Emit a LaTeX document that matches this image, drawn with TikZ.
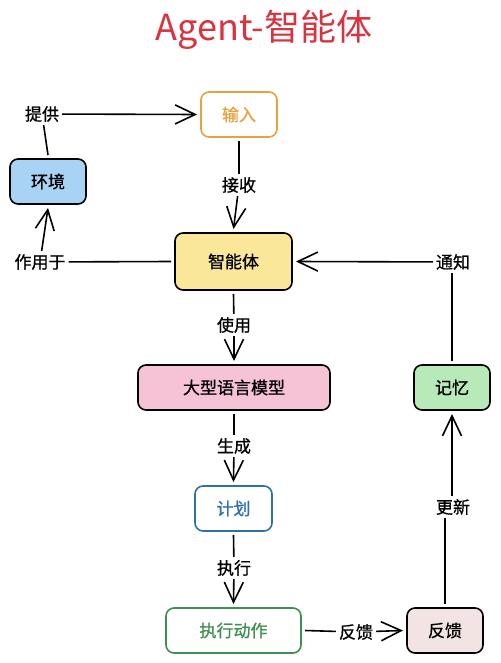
\documentclass[tikz,border=0pt]{standalone}
\usepackage{fontspec}
\setmainfont{Noto Sans CJK SC}[BoldFont=*, BoldFeatures={FakeBold=0.8}]
\usepackage{tikz}
\usetikzlibrary{arrows.meta}
\definecolor{titlered}{HTML}{D9333F}
\definecolor{inorange}{HTML}{E8A23A}
\definecolor{envblue}{HTML}{A9D3F5}
\definecolor{agentyellow}{HTML}{FBE79A}
\definecolor{llmpink}{HTML}{F6C3D6}
\definecolor{memgreen}{HTML}{B7E9B9}
\definecolor{planblue}{HTML}{2E6FAE}
\definecolor{actgreen}{HTML}{3F8F4F}
\definecolor{fbpink}{HTML}{F3E4E4}
\tikzset{x=1pt, y=-1pt, >={Straight Barb[length=20pt,width=19pt,line width=1.6pt]},
  box/.style={draw, line width=1.6pt, rounded corners=8pt, minimum height=45pt,
    font=\fontsize{17}{17}\selectfont\bfseries, outer sep=4pt},
  lbl/.style={font=\fontsize{17}{17}\selectfont\bfseries, inner sep=3pt},
  link/.style={line width=1.6pt}}

\begin{document}
\begin{tikzpicture}
\useasboundingbox (0,0) rectangle (500,663);
\node (title) at (264,30) [text=titlered, font=\fontsize{36}{36}\selectfont] {Agent-智能体};
\node (in) at (239,114.5) [box, draw=inorange, text=inorange, fill=white, minimum width=76pt] {输入};
\node (env) at (48,181.5) [box, fill=envblue, minimum width=76pt] {环境};
\node (agent) at (233.5,261.5) [box, fill=agentyellow, minimum width=117pt, minimum height=57pt] {智能体};
\node (llm) at (234,387.5) [box, fill=llmpink, minimum width=192pt] {大型语言模型};
\node (mem) at (452,387.5) [box, fill=memgreen, minimum width=76pt] {记忆};
\node (plan) at (233.5,508.5) [box, draw=planblue, text=planblue, fill=white, minimum width=77pt] {计划};
\node (act) at (233.5,630.5) [box, draw=actgreen, text=actgreen, fill=white, minimum width=135pt] {执行动作};
\node (fb) at (445,630.5) [box, fill=fbpink, minimum width=76pt] {反馈};
% labels on the links
\node (provide) at (42,114) [lbl] {提供};
\node (receive) at (239,185) [lbl] {接收};
\node (actson) at (40,262) [lbl] {作用于};
\node (notify) at (453,262) [lbl] {通知};
\node (use) at (234,325) [lbl] {使用};
\node (gen) at (234,446) [lbl] {生成};
\node (exec) at (234,568) [lbl] {执行};
\node (fblbl) at (356,632) [lbl] {反馈};
\node (update) at (453,507) [lbl] {更新};
% links
\draw[link] (env.north) -- (provide);
\draw[link, ->] (provide) -- (in.west);
\draw[link] (in.south) -- (receive);
\draw[link, ->] (receive) -- (agent.north);
\draw[link] (agent.west) -- (actson);
\draw[link, ->] (actson) -- (env.south);
\draw[link] (mem.north) -- (notify.south -| mem.north);
\draw[link, ->] (notify) -- (agent.east);
\draw[link] (agent.south) -- (use);
\draw[link, ->] (use) -- (llm.north);
\draw[link] (llm.south) -- (gen);
\draw[link, ->] (gen) -- (plan.north);
\draw[link] (plan.south) -- (exec);
\draw[link, ->] (exec) -- (act.north);
\draw[link] (act.east) -- (fblbl);
\draw[link, ->] (fblbl) -- (fb.west);
\draw[link] (fb.north) -- (update.south -| fb.north);
\draw[link, ->] (update.north -| mem.south) -- (mem.south);
\end{tikzpicture}
\end{document}
